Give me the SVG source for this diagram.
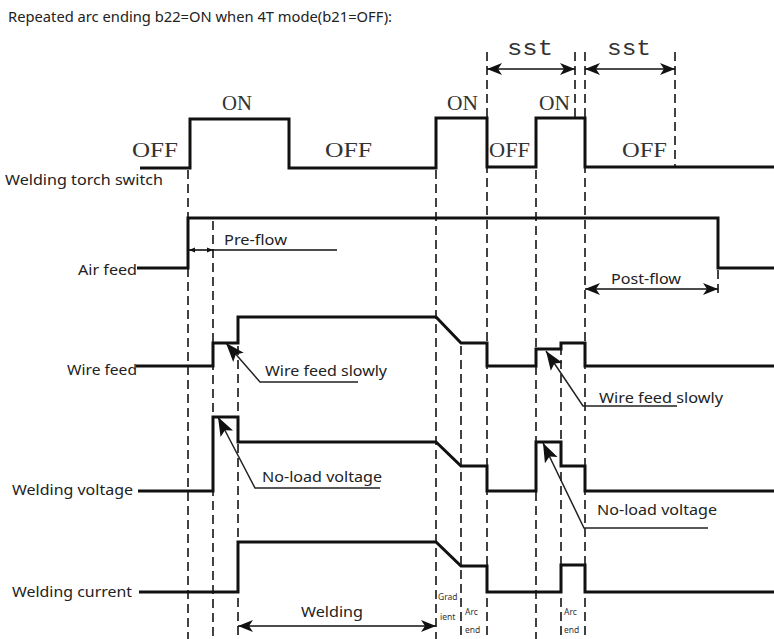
<svg xmlns="http://www.w3.org/2000/svg" width="774" height="639" viewBox="0 0 774 639">
<style>
.sig{fill:none;stroke:#111;stroke-width:3;stroke-linejoin:miter;stroke-linecap:butt}
.dash{fill:none;stroke:#222;stroke-width:1.7;stroke-dasharray:9 5}
.dim{fill:none;stroke:#111;stroke-width:1.6}
.lead{fill:none;stroke:#222;stroke-width:1.5}
.lbl{font-family:"Noto Sans","Open Sans","Liberation Sans",sans-serif;font-size:14px;fill:#222}
.ser{font-family:"Liberation Serif","DejaVu Serif",serif;font-size:21px;fill:#333}
.mono{font-family:"Liberation Mono","DejaVu Sans Mono",monospace;font-size:22px;fill:#333}
.sm{font-family:"Noto Sans","Liberation Sans",sans-serif;font-size:8.5px;fill:#333}
</style>
<defs>
<marker id="ah" markerUnits="userSpaceOnUse" markerWidth="16" markerHeight="14" refX="15" refY="7" orient="auto-start-reverse" overflow="visible">
<path d="M0,1 L15,7 L0,13 L4,7 z" fill="#111"/>
</marker>
<marker id="sah" markerUnits="userSpaceOnUse" markerWidth="7" markerHeight="6" refX="6" refY="3" orient="auto-start-reverse" overflow="visible">
<path d="M0,0.5 L6,3 L0,5.5 z" fill="#111"/>
</marker>
<marker id="lah" markerUnits="userSpaceOnUse" markerWidth="20" markerHeight="14" refX="19" refY="7" orient="auto-start-reverse" overflow="visible">
<path d="M0,0 L19,7 L0,14 L4,7 z" fill="#111"/>
</marker>
</defs>
<rect width="774" height="639" fill="#fff"/>
<text class="lbl" x="8" y="22" textLength="384" lengthAdjust="spacingAndGlyphs">Repeated arc ending b22=ON when 4T mode(b21=OFF):</text>

<g id="connectors">
<path class="dash" d="M188,170 V639 M213,221 V639 M238,346 V639 M436,170 V639 M461,346 V639 M487,52 V639 M536,170 V639 M561,346 V639 M575,52 V118 M585,52 V639 M675,52 V167 M718,270 V298"/>
<line class="dim" x1="487" y1="69" x2="575" y2="69" marker-start="url(#ah)" marker-end="url(#ah)"/>
<line class="dim" x1="585" y1="69" x2="675" y2="69" marker-start="url(#ah)" marker-end="url(#ah)"/>
<line class="dim" x1="585" y1="289" x2="718" y2="289" marker-start="url(#ah)" marker-end="url(#ah)"/>
<line class="dim" x1="238" y1="626" x2="436" y2="626" marker-start="url(#ah)" marker-end="url(#ah)"/>
<line class="dim" x1="189" y1="250" x2="213" y2="250" marker-start="url(#sah)" marker-end="url(#sah)"/>
<line class="dim" x1="213" y1="250" x2="337" y2="250"/>
<polyline class="lead" points="226,343 260,382 358,382" marker-start="url(#lah)"/>
<polyline class="lead" points="546,351 583,406 677,406" marker-start="url(#lah)"/>
<polyline class="lead" points="218,417 255,488 380,488" marker-start="url(#lah)"/>
<polyline class="lead" points="543,443 584,528 708,528" marker-start="url(#lah)"/>
</g>

<g id="torch">
<polyline class="sig" points="140,168 190,168 190,119 289,119 289,168 436,168 436,118 487,118 487,167 536,167 536,118 585,118 585,167 774,167"/>
<text class="lbl" x="5" y="185" textLength="158" lengthAdjust="spacingAndGlyphs">Welding torch switch</text>
<text class="ser" x="132" y="157" textLength="46" lengthAdjust="spacingAndGlyphs">OFF</text>
<text class="ser" x="222" y="110" textLength="30" lengthAdjust="spacingAndGlyphs">ON</text>
<text class="ser" x="325" y="157" textLength="47" lengthAdjust="spacingAndGlyphs">OFF</text>
<text class="ser" x="447" y="110" textLength="31" lengthAdjust="spacingAndGlyphs">ON</text>
<text class="ser" x="489" y="157" textLength="41" lengthAdjust="spacingAndGlyphs">OFF</text>
<text class="ser" x="539" y="110" textLength="31" lengthAdjust="spacingAndGlyphs">ON</text>
<text class="ser" x="622" y="157" textLength="45" lengthAdjust="spacingAndGlyphs">OFF</text>
<text class="mono" x="507" y="55" textLength="46" lengthAdjust="spacingAndGlyphs">sst</text>
<text class="mono" x="607" y="55" textLength="44" lengthAdjust="spacingAndGlyphs">sst</text>
</g>

<g id="air">
<polyline class="sig" points="137,268 188,268 188,218 718,218 718,268 774,268"/>
<text class="lbl" x="78" y="275" textLength="59" lengthAdjust="spacingAndGlyphs">Air feed</text>
<text class="lbl" x="224" y="245" textLength="63" lengthAdjust="spacingAndGlyphs">Pre-flow</text>
<text class="lbl" x="611" y="284" textLength="70" lengthAdjust="spacingAndGlyphs">Post-flow</text>
</g>

<g id="wire">
<polyline class="sig" points="136,366 213,366 213,343 238,343 238,317 436,317 461,343 487,343 487,366 536,366 536,349 561,349 561,343 585,343 585,366 774,366"/>
<text class="lbl" x="67" y="375" textLength="70" lengthAdjust="spacingAndGlyphs">Wire feed</text>
<text class="lbl" x="265" y="376" textLength="122" lengthAdjust="spacingAndGlyphs">Wire feed slowly</text>
<text class="lbl" x="599" y="403" textLength="124" lengthAdjust="spacingAndGlyphs">Wire feed slowly</text>
</g>

<g id="voltage">
<polyline class="sig" points="138,491 213,491 213,417 238,417 238,442 436,442 461,466 487,466 487,491 536,491 536,442 561,442 561,466 585,466 585,491 774,491"/>
<text class="lbl" x="12" y="495" textLength="121" lengthAdjust="spacingAndGlyphs">Welding voltage</text>
<text class="lbl" x="262" y="482" textLength="120" lengthAdjust="spacingAndGlyphs">No-load voltage</text>
<text class="lbl" x="597" y="515" textLength="120" lengthAdjust="spacingAndGlyphs">No-load voltage</text>
</g>

<g id="current">
<polyline class="sig" points="139,592 238,592 238,542 436,542 461,566 487,566 487,592 561,592 561,565 585,565 585,592 774,592"/>
<text class="lbl" x="12" y="597" textLength="120" lengthAdjust="spacingAndGlyphs">Welding current</text>
<text class="lbl" x="301" y="617" textLength="62" lengthAdjust="spacingAndGlyphs">Welding</text>
<text class="sm" x="438" y="600">Grad</text>
<text class="sm" x="440" y="620">ient</text>
<text class="sm" x="465" y="615">Arc</text>
<text class="sm" x="465" y="633">end</text>
<text class="sm" x="564" y="615">Arc</text>
<text class="sm" x="564" y="633">end</text>
</g>
</svg>
